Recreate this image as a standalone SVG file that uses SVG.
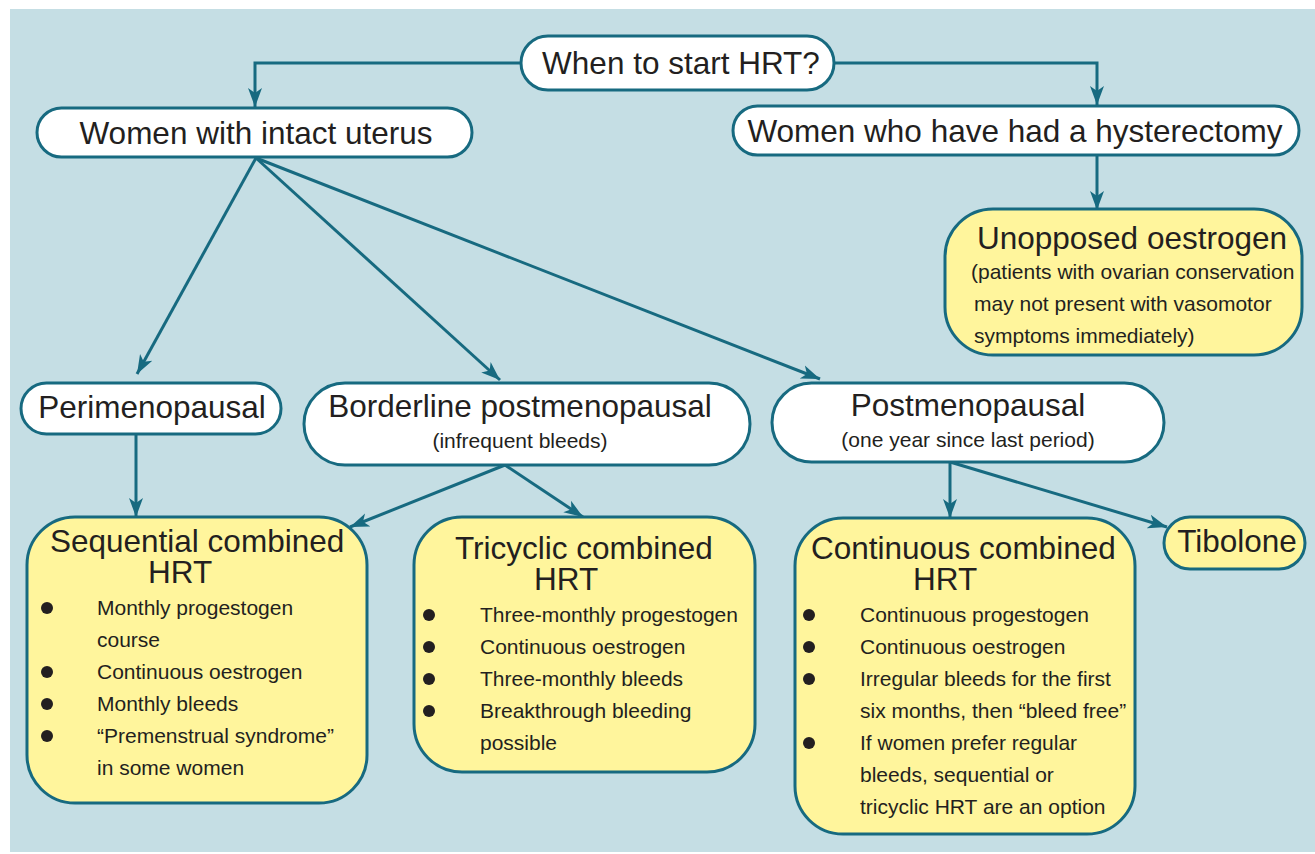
<svg xmlns="http://www.w3.org/2000/svg" width="1315" height="854" viewBox="0 0 1315 854">
<style>
.pill{fill:#ffffff;stroke:#176a80;stroke-width:3}
.box{fill:#fff59c;stroke:#176a80;stroke-width:3}
.t{font-family:"Liberation Sans",Arial,sans-serif;fill:#231f20}
.big{font-size:31.5px}
.sm{font-size:21px}
.c{text-anchor:middle}
.con{fill:none;stroke:#176a80;stroke-width:3;marker-end:url(#ah)}
.dot{fill:#231f20}
</style>
<defs>
<marker id="ah" markerUnits="userSpaceOnUse" markerWidth="20" markerHeight="16" viewBox="0 0 20 16" refX="19" refY="8" orient="auto">
<path d="M0,1 L19,8 L0,15 L5,8 z" fill="#176a80"/>
</marker>
</defs>
<rect x="10" y="9" width="1305" height="843" fill="#c5dee4"/>
<g id="connectors">
<path class="con" d="M521,63 H255 V107"/>
<path class="con" d="M834,63 H1097 V105"/>
<path class="con" d="M1097,155 V210"/>
<path class="con" d="M256,158 L137,374"/>
<path class="con" d="M256,158 L500,380"/>
<path class="con" d="M256,158 L820,379"/>
<path class="con" d="M136,435 V517"/>
<path class="con" d="M505,465 L350,527"/>
<path class="con" d="M505,465 L583,517"/>
<path class="con" d="M950,462 V518"/>
<path class="con" d="M950,462 L1167,527"/>
</g>
<g id="start">
<rect class="pill" x="521" y="36" width="313" height="54" rx="27"/>
<text class="t big c" x="681" y="74">When to start HRT?</text>
</g>
<g id="intact">
<rect class="pill" x="37" y="108" width="435" height="49" rx="24.5"/>
<text class="t big c" x="256" y="144">Women with intact uterus</text>
</g>
<g id="hysterectomy">
<rect class="pill" x="733" y="106" width="566" height="49" rx="24.5"/>
<text class="t big c" x="1015" y="142">Women who have had a hysterectomy</text>
</g>
<g id="unopposed">
<rect class="box" x="945" y="209" width="357" height="146" rx="48"/>
<text class="t big" x="977" y="249">Unopposed oestrogen</text>
<text class="t sm" x="971" y="279">(patients with ovarian conservation</text>
<text class="t sm" x="974" y="311">may not present with vasomotor</text>
<text class="t sm" x="974" y="343">symptoms immediately)</text>
</g>
<g id="perimenopausal">
<rect class="pill" x="21" y="383" width="260" height="51" rx="25.5"/>
<text class="t big c" x="152" y="418">Perimenopausal</text>
</g>
<g id="borderline">
<rect class="pill" x="304" y="383" width="446" height="82" rx="41"/>
<text class="t big c" x="520" y="417">Borderline postmenopausal</text>
<text class="t sm c" x="520" y="448">(infrequent bleeds)</text>
</g>
<g id="postmenopausal">
<rect class="pill" x="772" y="383" width="392" height="79" rx="39.5"/>
<text class="t big c" x="968" y="416">Postmenopausal</text>
<text class="t sm c" x="968" y="447">(one year since last period)</text>
</g>
<g id="sequential">
<rect class="box" x="27" y="517" width="340" height="286" rx="48"/>
<text class="t big"><tspan x="50" y="552">Sequential combined</tspan><tspan x="148" y="583">HRT</tspan></text>
<circle class="dot" cx="47" cy="608" r="6"/>
<circle class="dot" cx="47" cy="672" r="6"/>
<circle class="dot" cx="47" cy="704" r="6"/>
<circle class="dot" cx="47" cy="736" r="6"/>
<text class="t sm" x="97" y="615">Monthly progestogen</text>
<text class="t sm" x="97" y="647">course</text>
<text class="t sm" x="97" y="679">Continuous oestrogen</text>
<text class="t sm" x="97" y="711">Monthly bleeds</text>
<text class="t sm" x="97" y="743">“Premenstrual syndrome”</text>
<text class="t sm" x="97" y="775">in some women</text>
</g>
<g id="tricyclic">
<rect class="box" x="414" y="517" width="341" height="255" rx="48"/>
<text class="t big"><tspan x="455" y="559">Tricyclic combined</tspan><tspan x="534" y="590">HRT</tspan></text>
<circle class="dot" cx="429" cy="615" r="6"/>
<circle class="dot" cx="429" cy="647" r="6"/>
<circle class="dot" cx="429" cy="679" r="6"/>
<circle class="dot" cx="429" cy="711" r="6"/>
<text class="t sm" x="480" y="622">Three-monthly progestogen</text>
<text class="t sm" x="480" y="654">Continuous oestrogen</text>
<text class="t sm" x="480" y="686">Three-monthly bleeds</text>
<text class="t sm" x="480" y="718">Breakthrough bleeding</text>
<text class="t sm" x="480" y="750">possible</text>
</g>
<g id="continuous">
<rect class="box" x="795" y="518" width="340" height="316" rx="48"/>
<text class="t big"><tspan x="811" y="559">Continuous combined</tspan><tspan x="913" y="590">HRT</tspan></text>
<circle class="dot" cx="809" cy="615" r="6"/>
<circle class="dot" cx="809" cy="647" r="6"/>
<circle class="dot" cx="809" cy="679" r="6"/>
<circle class="dot" cx="809" cy="743" r="6"/>
<text class="t sm" x="860" y="622">Continuous progestogen</text>
<text class="t sm" x="860" y="654">Continuous oestrogen</text>
<text class="t sm" x="860" y="686">Irregular bleeds for the first</text>
<text class="t sm" x="860" y="718">six months, then “bleed free”</text>
<text class="t sm" x="860" y="750">If women prefer regular</text>
<text class="t sm" x="860" y="782">bleeds, sequential or</text>
<text class="t sm" x="860" y="814">tricyclic HRT are an option</text>
</g>
<g id="tibolone">
<rect class="box" x="1164" y="517" width="141" height="52" rx="26"/>
<text class="t big c" x="1237" y="552">Tibolone</text>
</g>
</svg>
